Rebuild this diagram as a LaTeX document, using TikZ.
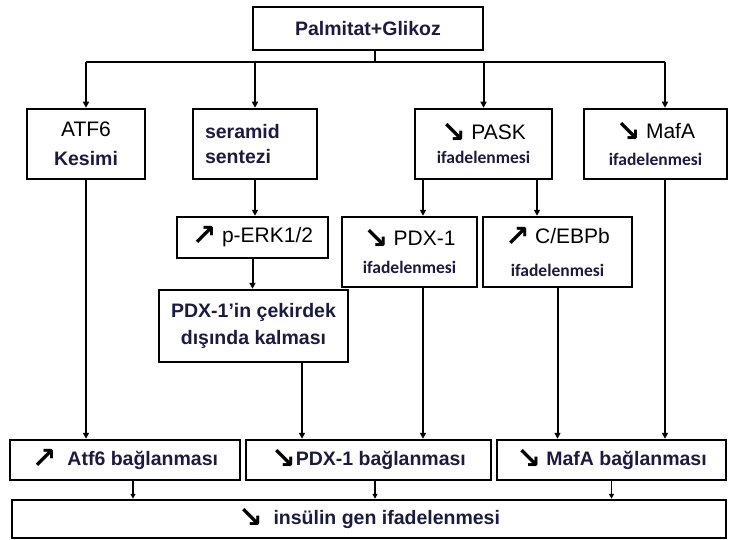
\documentclass[tikz,border=0pt]{standalone}
\usepackage{fontspec}
\usepackage{graphicx}
\setmainfont{Liberation Sans}
\newfontfamily\calfont{Carlito}
\newfontfamily\symfont{DejaVu Sans}
\usetikzlibrary{arrows.meta,positioning}
\definecolor{ink}{HTML}{1B1B3F}
\newcommand{\arrdn}{\smash{\raisebox{-3pt}{\scalebox{1.55}{\symfont\bfseries\fontsize{19}{19}\selectfont\color{black}↘}}}}
\newcommand{\arrup}{\smash{\raisebox{-3pt}{\scalebox{1.55}{\symfont\bfseries\fontsize{19}{19}\selectfont\color{black}↗}}}}
\newcommand{\regtxt}[1]{{\fontsize{21}{21}\selectfont\mdseries\color{black}#1}}
\newcommand{\ifd}{{\calfont\bfseries\fontsize{17.5}{17.5}\selectfont ifadelenmesi}}
\tikzset{box/.style={draw,line width=2.5pt,inner sep=0pt,align=center,text=ink,
  font=\fontsize{19.5}{26}\selectfont\bfseries},
  arr/.style={-{Triangle[length=6pt,width=6pt]},line width=2pt},
  arrs/.style={-{Triangle[length=5pt,width=5pt]},line width=1.4pt}}

\begin{document}
\begin{tikzpicture}[x=1pt,y=-1pt]
\useasboundingbox (0,0) rectangle (730,540);
% boxes
\node[box,minimum width=230pt,minimum height=43pt] (pg) at (368,28.5) {Palmitat+Glikoz};
\node[box,minimum width=118pt,minimum height=70pt] (atf6) at (86,144) {\regtxt{ATF6}\\[3pt]Kesimi};
\node[box,minimum width=124pt,minimum height=70pt,text width=100pt,align=left] (ser) at (255,144) {seramid\\[-1pt]sentezi};
\node[box,minimum width=137pt,minimum height=70pt] (pask) at (483.5,144) {\arrdn\ \regtxt{PASK}\\[-2pt]\ifd};
\node[box,minimum width=143pt,minimum height=70pt] (mafa) at (655.5,144) {\arrdn\ \regtxt{MafA}\\[1pt]\ifd};
\node[box,minimum width=151pt,minimum height=41pt] (perk) at (252.5,237.5) {\arrup\ \regtxt{p-ERK1/2}};
\node[box,minimum width=135pt,minimum height=70pt] (pdx) at (409.5,252) {\arrdn\ \regtxt{PDX-1}\\[2pt]\ifd};
\node[box,minimum width=149pt,minimum height=70pt] (cebp) at (557.5,252) {\arrup\ \regtxt{C/EBPb}\\[7pt]\ifd};
\node[box,minimum width=189pt,minimum height=72pt] (pdxout) at (253.5,326) {PDX-1'in çekirdek\\[1pt]dışında kalması};
\node[box,minimum width=230pt,minimum height=40pt] (atfbag) at (125,460) {\arrup\ \ Atf6 bağlanması};
\node[box,minimum width=245pt,minimum height=40pt] (pdxbag) at (368.5,460) {\arrdn PDX-1 bağlanması};
\node[box,minimum width=229pt,minimum height=40pt] (mafbag) at (611.5,460) {\arrdn\ MafA bağlanması};
\node[box,minimum width=714pt,minimum height=38pt] (ins) at (369,519) {\arrdn\ \ insülin gen ifadelenmesi};

% helper points
\coordinate (split) at (375,62);
\coordinate (mafa-in) at ([xshift=9.5pt]mafa.north);
\coordinate (mafa-out) at ([xshift=9.5pt]mafa.south);
\coordinate (pask-l) at ([xshift=-60.5pt]pask.south);
\coordinate (pask-r) at ([xshift=53.5pt]pask.south);
\coordinate (pdx-out) at ([xshift=13.5pt]pdx.south);
\coordinate (pdxout-out) at ([xshift=48.5pt]pdxout.south);
\coordinate (atfbag-out) at ([xshift=8pt]atfbag.south);
\coordinate (pdxbag-out) at ([xshift=6.5pt]pdxbag.south);

% Palmitat+Glikoz fan-out
\draw[line width=2pt] (pg.south -| split) -- (split);
\draw[line width=2pt] (split -| atf6.north) -- (split -| mafa-in);
\foreach \n in {atf6.north,ser.north,pask.north,mafa-in}
  \draw[arr] (split -| \n) -- (\n);

% middle
\draw[arr] (ser.south) -- (ser.south |- perk.north);
\draw[arr] (perk.south) -- (perk.south |- pdxout.north);
\draw[arr] (pask-l) -- (pask-l |- pdx.north);
\draw[arr] (pask-r) -- (pask-r |- cebp.north);

% to the binding row
\draw[arr] (atf6.south) -- (atf6.south |- atfbag.north);
\draw[arr] (pdxout-out) -- (pdxout-out |- pdxbag.north);
\draw[arr] (pdx-out) -- (pdx-out |- pdxbag.north);
\draw[arr] (cebp.south) -- (cebp.south |- mafbag.north);
\draw[arr] (mafa-out) -- (mafa-out |- mafbag.north);

% to insulin expression
\draw[arrs] (atfbag-out) -- (atfbag-out |- ins.north);
\draw[arrs] (pdxbag-out) -- (pdxbag-out |- ins.north);
\draw[arrs] (mafbag.south) -- (mafbag.south |- ins.north);
\end{tikzpicture}
\end{document}
